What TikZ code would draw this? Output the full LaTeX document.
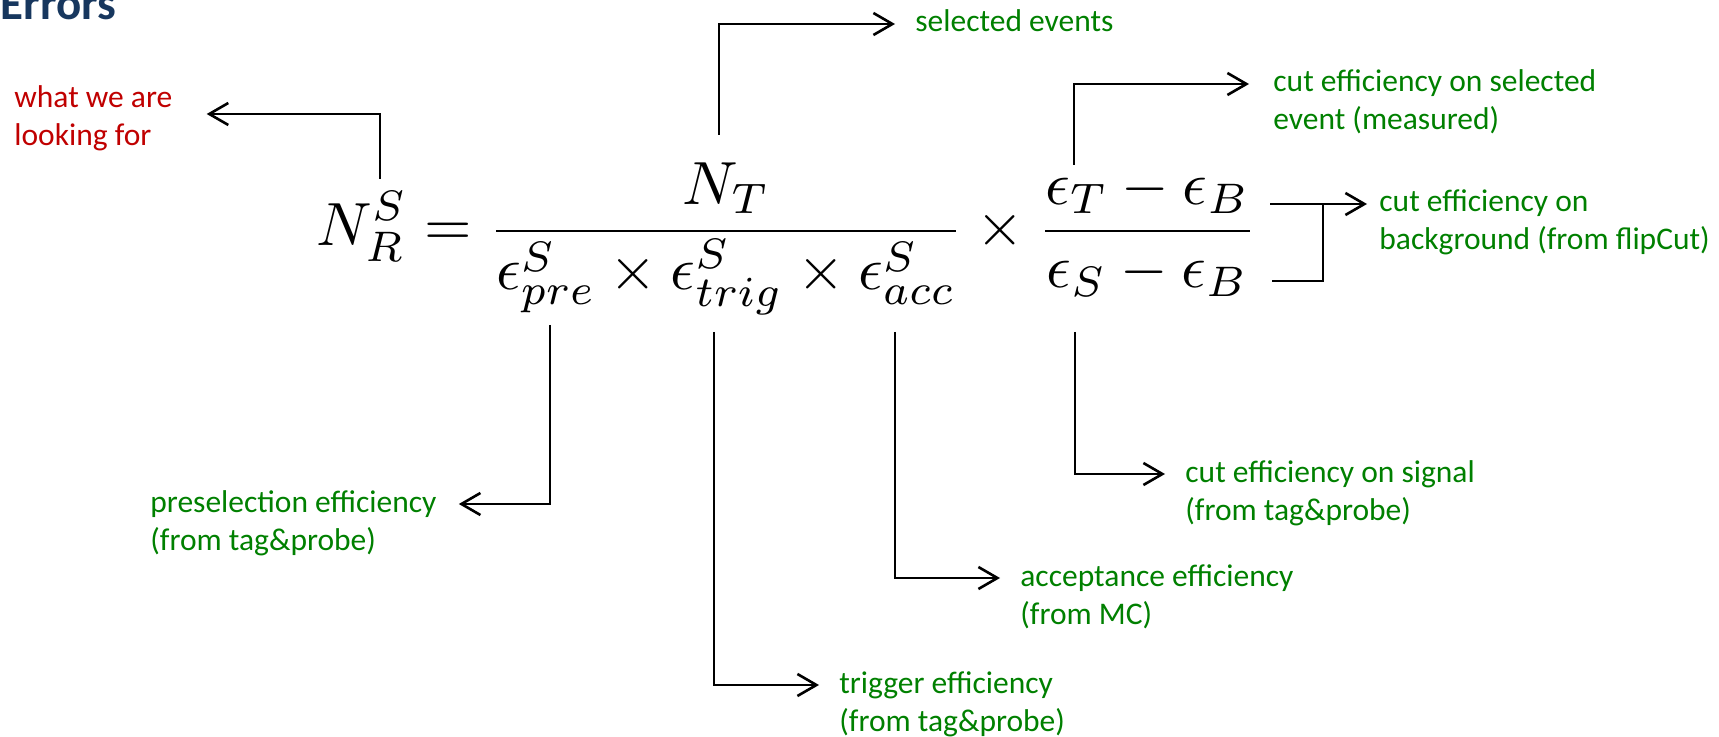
\documentclass[tikz,border=0pt]{standalone}
\usepackage[no-math]{fontspec}
\setmainfont{Carlito}
\usetikzlibrary{arrows.meta}
\definecolor{effgreen}{RGB}{0,128,0}
\definecolor{wantred}{RGB}{192,0,0}
\definecolor{titleblue}{RGB}{23,55,94}
\newcommand{\twolines}[2]{\begin{tabular}[t]{@{}l@{}}#1\\#2\end{tabular}}

\begin{document}
\begin{tikzpicture}[x=0.5pt, y=-0.5pt,
	arr/.style={line width=1.3pt, -{Straight Barb[length=9.5pt,width=11pt]}},
	lbl/.style={anchor=base west, inner sep=0pt, text=effgreen, font=\fontsize{15.75}{19}\selectfont}]
\useasboundingbox (0,0) rectangle (1719,737);

\node[anchor=base west, inner sep=0pt, text=titleblue, font=\fontsize{23.5}{28}\selectfont\bfseries] (title) at (0,20) {Errors};

% the formula
\node[anchor=base west, inner sep=0pt] (eq) at (316,246)
	{\scalebox{3.05}{$\displaystyle N_R^S = \frac{N_T}{\epsilon^S_{pre} \times \epsilon^S_{trig} \times \epsilon^S_{acc}} \times \frac{\epsilon_T - \epsilon_B}{\epsilon_S - \epsilon_B}$}};

% labels
\node[lbl, text=wantred] (want) at (14,108) {\twolines{what we are}{looking for}};
\node[lbl] (sel) at (915,32) {selected events};
\node[lbl] (cutsel) at (1273,92) {\twolines{cut efficiency on selected}{event (measured)}};
\node[lbl] (bkg) at (1379,212) {\twolines{cut efficiency on}{background (from flipCut)}};
\node[lbl] (pre) at (150,512) {\twolines{preselection efficiency}{(from tag\&probe)}};
\node[lbl] (sig) at (1185,482) {\twolines{cut efficiency on signal}{(from tag\&probe)}};
\node[lbl] (acc) at (1020,586) {\twolines{acceptance efficiency}{(from MC)}};
\node[lbl] (trig) at (839,693) {\twolines{trigger efficiency}{(from tag\&probe)}};

% where the arrows leave the formula
\coordinate (wantfoot) at (380,179);
\coordinate (selfoot) at (719,135);
\coordinate (cutselfoot) at (1074,165);
\coordinate (bkgtop) at (1270,204);
\coordinate (bkgbot) at (1272,281);
\coordinate (bkgjoin) at (1323,204);
\coordinate (prefoot) at (550,325);
\foreach \name/\x in {trig/714, acc/895, sig/1075}
	\coordinate (\name foot) at (\x,332);

\draw[arr] (wantfoot) |- ([xshift=17pt,yshift=-3pt]want.base east);
\draw[arr] (selfoot) |- ([xshift=-10pt,yshift=4pt]sel.base west);
\draw[arr] (cutselfoot) |- ([xshift=-12pt,yshift=4pt]cutsel.base west);
\draw[arr] (bkgtop) -- ([xshift=-6pt,yshift=4pt]bkg.base west);
\draw[line width=0.6pt] (bkgbot) -| (bkgjoin);
\draw[arr] (prefoot) |- ([xshift=11pt,yshift=4pt]pre.base east);
\foreach \name in {trig, acc, sig}
	\draw[arr] (\name foot) |- ([xshift=-10pt,yshift=4pt]\name.base west);

\end{tikzpicture}
\end{document}
